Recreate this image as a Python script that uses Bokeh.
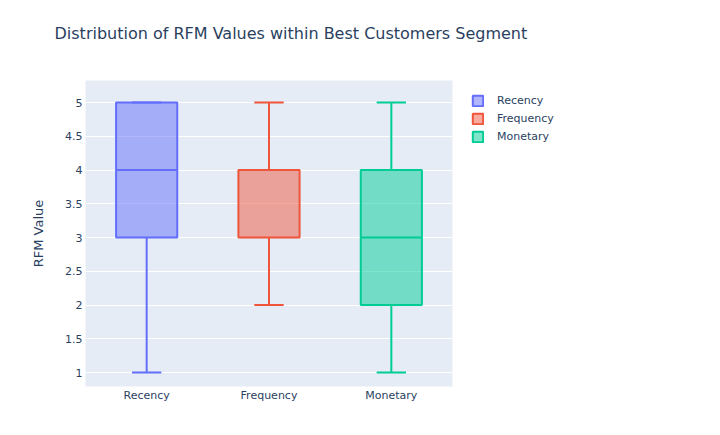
from bokeh.plotting import figure
from bokeh.models import FactorRange, Range1d, FixedTicker, Legend, LegendItem, ColumnDataSource
from bokeh.transform import dodge
from bokeh.embed import file_html
from bokeh.resources import INLINE

categories = ["Recency", "Frequency", "Monetary"]
lower_whisker = [1, 2, 1]
q1 = [3, 3, 2]
median = [4, 4, 3]
q3 = [5, 4, 4]
upper_whisker = [5, 5, 5]
colors = ["#636EFA", "#EF553B", "#00CC96"]
y_ticks = [1, 1.5, 2, 2.5, 3, 3.5, 4, 4.5, 5]
y_tick_labels = ["1", "1.5", "2", "2.5", "3", "3.5", "4", "4.5", "5"]
title_text = "Distribution of RFM Values within Best Customers Segment"

FONT = "DejaVu Sans"
TXT = "#2a3f5f"

p = figure(frame_width=367, frame_height=306, x_range=FactorRange(factors=categories, range_padding=0),
           y_range=Range1d(0.793, 5.326), output_backend="svg", toolbar_location=None,
           min_border_left=85, min_border_right=260, min_border_top=80, min_border_bottom=42,
           title=title_text + "\n ")
p.background_fill_color = "#E5ECF6"
p.border_fill_color = "white"
p.outline_line_color = None

p.title.text_font = FONT
p.title.text_font_size = "16px"
p.title.text_font_style = "normal"
p.title.text_color = TXT
p.title.offset = -31
p.title.standoff = 37

p.xgrid.grid_line_color = None
p.ygrid.grid_line_color = "white"
p.ygrid.grid_line_width = 1
p.yaxis.ticker = FixedTicker(ticks=y_ticks)
p.yaxis.major_label_overrides = {t: l for t, l in zip(y_ticks, y_tick_labels)}

for ax in (p.xaxis[0], p.yaxis[0]):
    ax.axis_line_color = None
    ax.major_tick_line_color = None
    ax.minor_tick_line_color = None
    ax.major_tick_out = 0
    ax.minor_tick_out = 0
    ax.major_label_text_font = FONT
    ax.major_label_text_font_size = "11px"
    ax.major_label_text_color = TXT
    ax.major_label_standoff = 3
p.xaxis.major_label_standoff = 2
p.yaxis.axis_label = "RFM Value"
p.yaxis.axis_label_text_font = FONT
p.yaxis.axis_label_text_font_size = "13px"
p.yaxis.axis_label_text_font_style = "normal"
p.yaxis.axis_label_text_color = TXT
p.yaxis.axis_label_standoff = 16

items = []
for i, cat in enumerate(categories):
    src = ColumnDataSource(dict(x=[cat], lo=[lower_whisker[i]], q1=[q1[i]], med=[median[i]],
                                q3=[q3[i]], hi=[upper_whisker[i]]))
    c = colors[i]
    p.segment(x0="x", y0="lo", x1="x", y1="q1", source=src, line_color=c, line_width=2)
    p.segment(x0="x", y0="q3", x1="x", y1="hi", source=src, line_color=c, line_width=2)
    p.segment(x0=dodge("x", -0.12, range=p.x_range), y0="lo", x1=dodge("x", 0.12, range=p.x_range), y1="lo",
              source=src, line_color=c, line_width=2)
    p.segment(x0=dodge("x", -0.12, range=p.x_range), y0="hi", x1=dodge("x", 0.12, range=p.x_range), y1="hi",
              source=src, line_color=c, line_width=2)
    box = p.vbar(x="x", width=0.5, bottom="q1", top="q3", source=src, fill_color=c, fill_alpha=0.5,
                 line_color=c, line_width=2)
    p.segment(x0=dodge("x", -0.25, range=p.x_range), y0="med", x1=dodge("x", 0.25, range=p.x_range), y1="med",
              source=src, line_color=c, line_width=2)
    items.append(LegendItem(label=cat, renderers=[box]))

legend = Legend(items=items, location=(19, 243), margin=0, padding=0, spacing=5,
                glyph_width=13, glyph_height=13, label_standoff=13,
                label_text_font=FONT, label_text_font_size="11px", label_text_color=TXT,
                background_fill_alpha=0, border_line_color=None, label_height=13)
p.add_layout(legend, "right")

open("out.html", "w").write(file_html(p, INLINE))
